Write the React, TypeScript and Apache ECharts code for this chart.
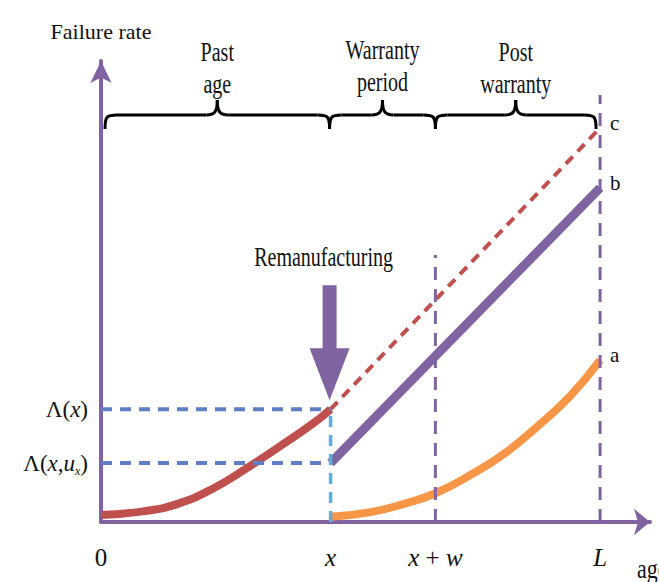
import React, { useEffect, useRef } from "react";
import * as echarts from "echarts";

// ---- data (axis units: age 0..L, failure rate) ----
const X_TICKS = [0, 4.6, 6.7, 10];
const X_TICK_LABELS = ["0", "{i|x}", "{i|x} + {i|w}", "{i|L}"];
const Y_TICKS = [1.25, 2.39];
const Y_TICK_LABELS = ["Λ({i|x},{i|u}{s|x})", "Λ({i|x})"];

const pastCurve = [
  [0, 0.15], [0.88, 0.23], [1.55, 0.39], [2.23, 0.7], [2.89, 1.12],
  [3.55, 1.58], [4.24, 2.08], [4.6, 2.39],
];
const lineC = [[4.6, 2.39], [10, 8.35]];
const lineB = [[4.6, 1.25], [10, 7.08]];
const curveA = [
  [4.6, 0.11], [5.4, 0.21], [6.06, 0.38], [6.7, 0.61], [7.41, 1.0],
  [8.07, 1.44], [8.75, 2.03], [9.41, 2.68], [10, 3.43],
];
const refLambdaX = [[0, 2.39], [4.6, 2.39]];
const refLambdaXU = [[0, 1.25], [4.6, 1.25]];
const refX = [[4.6, 0], [4.6, 2.39]];
const refXW = [[6.7, 0], [6.7, 5.66]];
const refL = [[10, 0], [10, 9.05]];

const SEGMENT_LABELS = ["Past\nage", "Warranty\nperiod", "Post\nwarranty"];
const ARROW_LABEL = "Remanufacturing";
const Y_NAME = "Failure rate";
const X_NAME = "age";

const PURPLE = "#8064A2";
const RED = "#C0504D";
const ORANGE = "#F79646";
const BLUE = "#5E7FC4";
const LIGHTBLUE = "#62ACDB";
const FONT = "'Liberation Serif', 'Times New Roman', serif";

const closestIdx = (arr: number[], v: number) => {
  let b = 0;
  arr.forEach((a, i) => { if (Math.abs(a - v) < Math.abs(arr[b] - v)) b = i; });
  return b;
};

export default function App() {
  const ref = useRef<HTMLDivElement>(null);
  useEffect(() => {
    if (!ref.current) return;
    const chart = echarts.init(ref.current, null, { renderer: "svg" });
    const endLab = (t: string) => ({
      show: true,
      formatter: t,
      fontFamily: FONT,
      fontSize: 21,
      color: "#111",
      offset: [2, -5],
    });
    const dashLine = (data: number[][], color: string, width: number, dash: number[]) => ({
      type: "line",
      data,
      symbol: "none",
      silent: true,
      lineStyle: { color, width, type: dash, cap: "butt" },
    });
    const option: any = {
      animation: false,
      backgroundColor: "#fff",
      grid: { left: 101, right: 9, top: 61, bottom: 60, containLabel: false },
      xAxis: {
        type: "value",
        min: 0,
        max: 11,
        splitLine: { show: false },
        axisTick: { show: false },
        axisLine: {
          show: true,
          lineStyle: { color: PURPLE, width: 4 },
          symbol: ["none", "arrow"],
          symbolSize: [20, 16],
        },
        axisLabel: {
          customValues: X_TICKS,
          formatter: (v: number) => X_TICK_LABELS[closestIdx(X_TICKS, v)],
          margin: 22,
          fontFamily: FONT,
          fontSize: 25,
          lineHeight: 26,
          color: "#111",
          rich: { i: { fontStyle: "italic", fontFamily: FONT, fontSize: 25, lineHeight: 26, color: "#111" } },
        },
      },
      yAxis: {
        type: "value",
        min: 0,
        max: 9.77,
        name: Y_NAME,
        nameLocation: "end",
        nameGap: 19,
        nameTextStyle: { fontFamily: FONT, fontSize: 22, color: "#111", align: "center" },
        splitLine: { show: false },
        axisTick: { show: false },
        axisLine: {
          show: true,
          lineStyle: { color: PURPLE, width: 4 },
          symbol: ["none", "arrow"],
          symbolSize: [16, 22],
        },
        axisLabel: {
          customValues: Y_TICKS,
          formatter: (v: number) => Y_TICK_LABELS[closestIdx(Y_TICKS, v)],
          margin: 13,
          fontFamily: FONT,
          fontSize: 23,
          color: "#111",
          rich: {
            i: { fontStyle: "italic", fontFamily: FONT, fontSize: 23, color: "#111" },
            s: { fontStyle: "italic", fontFamily: FONT, fontSize: 12, color: "#111", padding: [15, 0, 0, 0] },
          },
        },
      },
      series: [
        {
          type: "line", data: pastCurve, symbol: "none", smooth: 0.5,
          lineStyle: { color: RED, width: 8 },
        },
        {
          type: "line", data: curveA, symbol: "none", smooth: 0.5,
          lineStyle: { color: ORANGE, width: 8 },
          endLabel: endLab("a"),
        },
        {
          type: "line", data: lineC, symbol: "none",
          lineStyle: { color: RED, width: 4, type: [10, 7] },
          endLabel: endLab("c"),
        },
        {
          type: "line", data: lineB, symbol: "none",
          lineStyle: { color: PURPLE, width: 9 },
          endLabel: endLab("b"),
        },
        dashLine(refLambdaX, BLUE, 4, [11, 8]),
        dashLine(refLambdaXU, BLUE, 4, [11, 8]),
        dashLine(refX, LIGHTBLUE, 3.5, [11, 8]),
        dashLine(refXW, PURPLE, 3, [13, 9]),
        dashLine(refL, PURPLE, 3, [13, 9]),
      ],
    };
    chart.setOption(option);

    const px = (x: number, y: number) => chart.convertToPixel({ gridIndex: 0 }, [x, y]) as number[];
    const stroke = { stroke: "#000", lineWidth: 3, fill: null };
    const brace = (x0: number, x1: number) => {
      const yE = 129, yB = 115, yT = 100;
      const m = (x0 + x1) / 2;
      return [
        { type: "bezierCurve", shape: { x1: x0, y1: yE, cpx1: x0, cpy1: yB + 1, cpx2: x0 + 2, cpy2: yB, x2: x0 + 12, y2: yB }, style: stroke },
        { type: "line", shape: { x1: x0 + 12, y1: yB, x2: m - 11, y2: yB }, style: stroke },
        { type: "bezierCurve", shape: { x1: m - 11, y1: yB, cpx1: m - 2, cpy1: yB, cpx2: m, cpy2: yB - 4, x2: m, y2: yT }, style: stroke },
        { type: "bezierCurve", shape: { x1: m, y1: yT, cpx1: m, cpy1: yB - 4, cpx2: m + 2, cpy2: yB, x2: m + 11, y2: yB }, style: stroke },
        { type: "line", shape: { x1: m + 11, y1: yB, x2: x1 - 12, y2: yB }, style: stroke },
        { type: "bezierCurve", shape: { x1: x1 - 12, y1: yB, cpx1: x1 - 2, cpy1: yB, cpx2: x1, cpy2: yB + 1, x2: x1, y2: yE }, style: stroke },
      ];
    };
    const xs = [px(0, 0)[0] + 4, px(X_TICKS[1], 0)[0] - 1, px(X_TICKS[2], 0)[0], px(X_TICKS[3], 0)[0] - 4];
    const tip = px(X_TICKS[1], Y_TICKS[1]);
    const ax = tip[0] - 1, ay = tip[1] - 9;
    const txt = (text: string, x: number, y: number, size: number, align = "center", sy = 1.4, lh = 23) => ({
      type: "text",
      x, y,
      scaleY: sy,
      style: {
        text, fill: "#111", font: `${size}px ${FONT}`, align, verticalAlign: "middle", lineHeight: lh,
      },
    });
    const graphics: any[] = [
      ...brace(xs[0], xs[1]),
      ...brace(xs[1], xs[2]),
      ...brace(xs[2], xs[3]),
      txt(SEGMENT_LABELS[0], (xs[0] + xs[1]) / 2, 67, 20),
      txt(SEGMENT_LABELS[1], (xs[1] + xs[2]) / 2, 65, 20),
      txt(SEGMENT_LABELS[2], (xs[2] + xs[3]) / 2, 67, 20),
      txt(ARROW_LABEL, ax - 6, 256, 20),
      {
        type: "polygon",
        shape: {
          points: [
            [ax - 7, ay - 115], [ax + 7, ay - 115], [ax + 7, ay - 52], [ax + 20, ay - 52],
            [ax, ay], [ax - 20, ay - 52], [ax - 7, ay - 52],
          ],
        },
        style: { fill: PURPLE },
      },
      txt(X_NAME, 637, 569, 22, "left", 1.2, 24),
    ];
    chart.setOption({ graphic: graphics });
    return () => chart.dispose();
  }, []);
  return (
    <div
      ref={ref}
      style={{ position: "fixed", left: 0, top: 0, width: 659, height: 582, background: "#fff" }}
    />
  );
}
